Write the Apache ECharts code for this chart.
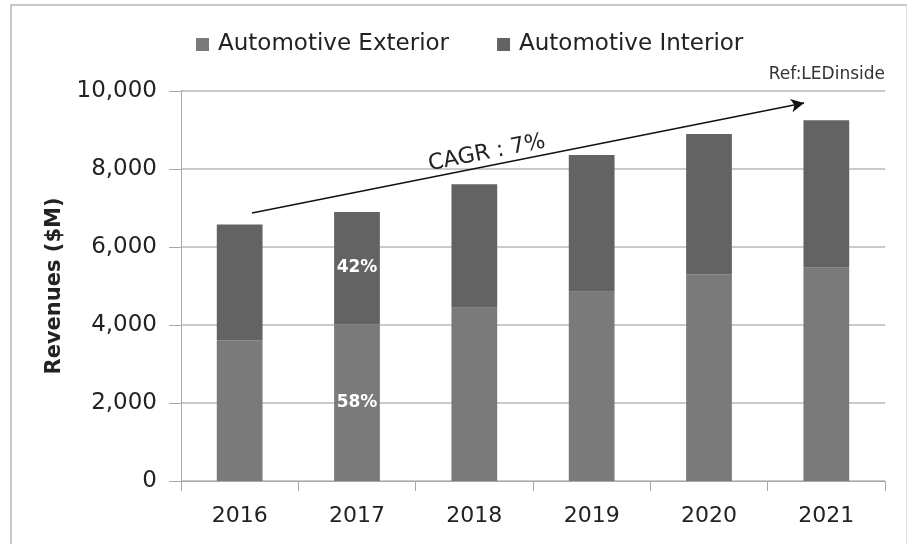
<!DOCTYPE html>
<html>
<head>
<meta charset="utf-8">
<script src="https://cdn.jsdelivr.net/npm/echarts@6/dist/echarts.min.js"></script>
<style>
html,body{margin:0;padding:0;background:#fff;}
#c{width:907px;height:544px;position:absolute;left:0;top:0;}
#frame{position:absolute;left:10px;top:4px;width:894px;height:560px;border-top:2px solid #c8c8c8;border-left:2px solid #c8c8c8;border-right:1px solid #e4e4e4;pointer-events:none;}
</style>
</head>
<body>
<div id="c"></div>
<div id="frame"></div>
<script>
var years = ['2016', '2017', '2018', '2019', '2020', '2021'];
var exteriorValues = [3610, 4020, 4440, 4850, 5300, 5480];
var interiorValues = [2970, 2880, 3170, 3510, 3600, 3770];
var exteriorLabels = ['', '58%', '', '', '', ''];
var interiorLabels = ['', '42%', '', '', '', ''];
var yTicks = [0, 2000, 4000, 6000, 8000, 10000];
var cagrStart = [0.605, 6870];
var cagrEnd = [5.31, 9690];
var cagrText = 'CAGR : 7%';
var refText = 'Ref:LEDinside';

// label sits ~44% along the arrow: invisible helper segment whose midpoint is there
var labelFrac = 0.86;
var cagrLabelEnd = [cagrStart[0] + (cagrEnd[0] - cagrStart[0]) * labelFrac,
                    cagrStart[1] + (cagrEnd[1] - cagrStart[1]) * labelFrac];

var FONT = 'DejaVu Sans';
var chart = echarts.init(document.getElementById('c'), null, {renderer: 'canvas'});

function pctLabel(arr) {
  return {
    show: true,
    position: 'inside',
    color: '#ffffff',
    fontFamily: FONT,
    fontWeight: 'bold',
    fontSize: 17,
    formatter: function (p) { return arr[p.dataIndex]; }
  };
}

chart.setOption({
  animation: false,
  backgroundColor: '#ffffff',
  textStyle: {fontFamily: FONT, color: '#222'},
  title: {
    text: refText,
    right: 17,
    top: 61,
    textStyle: {fontFamily: FONT, fontSize: 17, fontWeight: 'normal', color: '#333'}
  },
  legend: {
    left: 191,
    top: 28,
    itemWidth: 13,
    itemHeight: 13,
    itemGap: 48,
    icon: 'rect',
    textStyle: {fontFamily: FONT, fontSize: 23, color: '#222', padding: [0, 0, 0, 4]},
    data: ['Automotive Exterior', 'Automotive Interior']
  },
  grid: {left: 181, right: 22, top: 91, bottom: 63, containLabel: false},
  xAxis: [{
    type: 'category',
    data: years,
    boundaryGap: true,
    axisLine: {lineStyle: {color: '#a8a8a8', width: 1}},
    axisTick: {show: true, length: 10, lineStyle: {color: '#a8a8a8'}},
    axisLabel: {fontFamily: FONT, fontSize: 22, color: '#222', margin: 24}
  }, {
    type: 'value',
    min: 0,
    max: 6,
    show: false
  }],
  yAxis: {
    type: 'value',
    min: yTicks[0],
    max: yTicks[yTicks.length - 1],
    interval: 2000,
    name: 'Revenues ($M)',
    nameLocation: 'middle',
    nameGap: 116,
    nameRotate: 90,
    nameTextStyle: {fontFamily: FONT, fontSize: 21, fontWeight: 'bold', color: '#222'},
    axisLine: {show: true, lineStyle: {color: '#a8a8a8', width: 1}},
    axisTick: {show: true, length: 12, lineStyle: {color: '#a8a8a8'}},
    splitLine: {show: true, lineStyle: {color: '#b8b8b8', width: 1.5}},
    axisLabel: {
      fontFamily: FONT, fontSize: 23, color: '#222', margin: 24,
      formatter: function (v) { return v.toLocaleString('en-US'); }
    }
  },
  series: [{
    name: 'Automotive Exterior',
    type: 'bar',
    stack: 'total',
    barWidth: '39%',
    itemStyle: {color: '#7a7a7a'},
    label: pctLabel(exteriorLabels),
    data: exteriorValues
  }, {
    name: 'Automotive Interior',
    type: 'bar',
    stack: 'total',
    barWidth: '39%',
    itemStyle: {color: '#636363'},
    label: pctLabel(interiorLabels),
    data: interiorValues
  }, {
    name: 'cagr',
    type: 'line',
    xAxisIndex: 1,
    data: [],
    silent: true,
    markLine: {
      silent: true,
      symbol: ['none', 'arrow'],
      symbolSize: [10, 13],
      lineStyle: {color: '#111', width: 1.5, type: 'solid'},
      label: {show: false},
      data: [[{coord: cagrStart}, {coord: cagrEnd}]]
    }
  }, {
    name: 'cagrLabel',
    type: 'line',
    xAxisIndex: 1,
    data: [],
    silent: true,
    markLine: {
      silent: true,
      symbol: ['none', 'none'],
      lineStyle: {color: 'rgba(0,0,0,0)', width: 1},
      label: {
        show: true,
        position: 'middle',
        formatter: cagrText,
        fontFamily: FONT,
        fontSize: 22,
        color: '#222',
        distance: 2
      },
      data: [[{coord: cagrStart}, {coord: cagrLabelEnd}]]
    }
  }]
});
</script>
</body>
</html>
